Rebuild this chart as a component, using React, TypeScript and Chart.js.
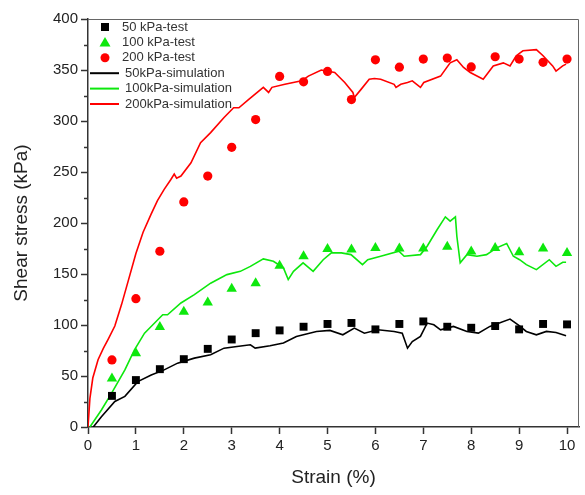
import React, { useEffect, useRef } from 'react';
import { Chart, registerables } from 'chart.js';

Chart.register(...registerables);

// ---- Data ----
const testStrain = [0.5, 1, 1.5, 2, 2.5, 3, 3.5, 4, 4.5, 5, 5.5, 6, 6.5, 7, 7.5, 8, 8.5, 9, 9.5, 10];
const test50 = [30.5, 46, 56.7, 66.5, 76.6, 85.8, 92, 94.7, 98.3, 101, 102, 95.7, 101, 103.5, 98.3, 97.3, 99, 95.7, 101, 100.6];
const test100 = [47.5, 72.4, 98, 113, 122, 135.6, 141, 158, 167.4, 174.6, 174, 175.6, 174.9, 175, 176.6, 172, 175.6, 171.3, 175, 170.7];
const test200 = [65.8, 125.8, 172.3, 220.7, 246, 274.2, 301.4, 343.7, 338.4, 348.6, 321, 360, 352.8, 360.7, 361.7, 353, 363, 360.7, 357.5, 360.7];

const sim50Strain = [0.11, 0.28, 0.56, 0.77, 1.04, 1.32, 1.59, 1.87, 2.22, 2.56, 2.84, 3.11, 3.39, 3.49, 3.8, 4.08, 4.35, 4.77, 5.05, 5.32, 5.56, 5.77, 6.05, 6.39, 6.56, 6.67, 6.77, 6.94, 7.08, 7.22, 7.36, 7.63, 7.91, 8.15, 8.39, 8.81, 8.98, 9.15, 9.36, 9.57, 9.77, 9.98];
const sim50Stress = [0, 10, 25, 30, 44.5, 51, 56, 62.6, 67.5, 70.8, 77.3, 79, 80.6, 77.3, 79.6, 82.3, 88.8, 93.7, 94.7, 90.4, 97, 92, 95.3, 93.7, 92, 77.3, 83.8, 88.8, 101.9, 100.2, 95.3, 98.6, 93.7, 92, 98.6, 105.8, 100.2, 93.7, 90.4, 93.7, 92.7, 89.4];

const sim100Strain = [0.04, 0.28, 0.49, 0.77, 0.97, 1.18, 1.39, 1.56, 1.66, 1.94, 2.22, 2.56, 2.9, 3.18, 3.39, 3.66, 3.87, 4.08, 4.18, 4.29, 4.49, 4.7, 4.91, 5.08, 5.29, 5.49, 5.73, 5.84, 6.11, 6.49, 6.6, 6.94, 7.08, 7.29, 7.46, 7.56, 7.67, 7.7, 7.77, 7.91, 8.12, 8.32, 8.53, 8.74, 8.88, 9.01, 9.15, 9.36, 9.63, 9.77, 9.91, 9.98];
const sim100Stress = [0, 16.7, 33, 56, 75.7, 92, 102, 110, 110, 121.6, 129.7, 141, 149.4, 152.6, 157.5, 164.8, 162.5, 156, 144.5, 152.6, 160.9, 152.6, 164, 170.7, 170.7, 169, 159.2, 164, 167.4, 172.3, 167.4, 169, 177.2, 193.6, 206, 201.8, 206, 187, 161, 169, 167.4, 169, 175.6, 179.9, 167.4, 164, 159.2, 154.3, 164, 157.5, 161.5, 161.5];

const sim200Strain = [0, 0.04, 0.1, 0.21, 0.32, 0.42, 0.56, 0.7, 0.85, 1.0, 1.15, 1.32, 1.45, 1.59, 1.73, 1.8, 1.85, 1.94, 2.15, 2.35, 2.56, 2.84, 3.04, 3.15, 3.35, 3.66, 3.77, 3.84, 4.11, 4.46, 4.6, 4.87, 5.15, 5.36, 5.53, 5.56, 5.7, 5.87, 5.98, 6.11, 6.39, 6.43, 6.53, 6.67, 6.77, 6.94, 7.01, 7.36, 7.56, 7.7, 7.84, 7.98, 8.25, 8.46, 8.67, 8.81, 8.94, 9.08, 9.36, 9.5, 9.7, 9.77, 9.91, 9.98];
const sim200Stress = [0, 28, 48, 66, 77, 86, 99, 120, 145, 170, 191, 209, 222, 233, 242.7, 248, 244, 246, 259, 278.8, 288.6, 303.4, 313, 313, 321, 333, 328, 333, 336, 339.4, 344, 350, 347.6, 337.8, 328, 323, 331, 341, 341.7, 341, 336, 333, 336, 337.8, 339.4, 333, 337.8, 344, 357, 360, 352.5, 347.6, 341, 354, 357, 354, 364, 368.8, 370, 364, 354, 349, 354, 355.8];

const xTicks = [0, 1, 2, 3, 4, 5, 6, 7, 8, 9, 10];
const yMinorTicks = [25, 75, 125, 175, 225, 275, 325, 375];

const testLabels = ['50 kPa-test', '100 kPa-test', '200 kPa-test'];
const simLabels = ['50kPa-simulation', '100kPa-simulation', '200kPa-simulation'];

const BLACK = '#000000';
const GREEN = '#0de80d';
const RED = '#ff0000';

const pts = (xs: number[], ys: number[]) => xs.map((x, i) => ({ x, y: ys[i] }));

const FONT = '"Liberation Sans", Arial, sans-serif';

const decorPlugin = {
  id: 'decor',
  afterDraw(chart: any) {
    const { ctx, chartArea } = chart;
    const ys = chart.scales.y;
    ctx.save();
    // top & right frame
    ctx.strokeStyle = '#666';
    ctx.lineWidth = 1;
    ctx.beginPath();
    ctx.moveTo(chartArea.left, chartArea.top + 0.5);
    ctx.lineTo(chartArea.right - 0.5, chartArea.top + 0.5);
    ctx.lineTo(chartArea.right - 0.5, chartArea.bottom);
    ctx.stroke();
    // minor y ticks
    ctx.strokeStyle = '#333';
    ctx.lineWidth = 1.5;
    yMinorTicks.forEach((v) => {
      const py = Math.round(ys.getPixelForValue(v)) + 0.5;
      ctx.beginPath();
      ctx.moveTo(chartArea.left - 4, py);
      ctx.lineTo(chartArea.left, py);
      ctx.stroke();
    });
    // legend
    const lx = chartArea.left;
    const ly = chartArea.top + 8;
    const step = 15.4;
    ctx.font = `13px ${FONT}`;
    ctx.textBaseline = 'middle';
    ctx.fillStyle = '#333';
    const dsets = chart.data.datasets;
    for (let i = 0; i < 6; i++) {
      const ds = dsets[i];
      const cy = ly + i * step;
      if (i < 3) {
        const cx = lx + 17;
        ctx.fillStyle = ds.backgroundColor;
        ctx.beginPath();
        if (ds.pointStyle === 'rect') {
          ctx.rect(cx - 4, cy - 4, 8, 8);
        } else if (ds.pointStyle === 'triangle') {
          ctx.moveTo(cx, cy - 5.5);
          ctx.lineTo(cx + 5.5, cy + 4);
          ctx.lineTo(cx - 5.5, cy + 4);
          ctx.closePath();
        } else {
          ctx.arc(cx, cy, 4.5, 0, Math.PI * 2);
        }
        ctx.fill();
        ctx.fillStyle = '#333';
        ctx.fillText(ds.label, lx + 34, cy);
      } else {
        ctx.strokeStyle = ds.borderColor;
        ctx.lineWidth = 2;
        ctx.beginPath();
        ctx.moveTo(lx + 2, cy);
        ctx.lineTo(lx + 31, cy);
        ctx.stroke();
        ctx.fillStyle = '#333';
        ctx.fillText(ds.label, lx + 37, cy);
      }
    }
    ctx.restore();
  },
};

export default function App() {
  const ref = useRef<HTMLCanvasElement | null>(null);

  useEffect(() => {
    if (!ref.current) return;
    const chart = new Chart(ref.current, {
      type: 'scatter',
      data: {
        datasets: [
          { label: testLabels[0], data: pts(testStrain, test50), pointStyle: 'rect', pointRadius: 5.6, backgroundColor: BLACK, borderColor: BLACK, borderWidth: 0, showLine: false },
          { label: testLabels[1], data: pts(testStrain, test100), pointStyle: 'triangle', pointRadius: 6, backgroundColor: GREEN, borderColor: GREEN, borderWidth: 0, showLine: false },
          { label: testLabels[2], data: pts(testStrain, test200), pointStyle: 'circle', pointRadius: 4.6, backgroundColor: RED, borderColor: RED, borderWidth: 0, showLine: false },
          { label: simLabels[0], data: pts(sim50Strain, sim50Stress), showLine: true, pointRadius: 0, borderColor: BLACK, backgroundColor: BLACK, borderWidth: 1.6, tension: 0 },
          { label: simLabels[1], data: pts(sim100Strain, sim100Stress), showLine: true, pointRadius: 0, borderColor: GREEN, backgroundColor: GREEN, borderWidth: 1.6, tension: 0 },
          { label: simLabels[2], data: pts(sim200Strain, sim200Stress), showLine: true, pointRadius: 0, borderColor: RED, backgroundColor: RED, borderWidth: 1.6, tension: 0 },
        ],
      },
      options: {
        animation: false,
        responsive: true,
        maintainAspectRatio: false,
        layout: { padding: { left: 0, top: 19, right: 2, bottom: 0 } },
        plugins: { legend: { display: false }, tooltip: { enabled: false } },
        scales: {
          x: {
            type: 'linear',
            min: 0,
            max: 10.25,
            afterBuildTicks: (s: any) => {
              s.ticks = xTicks.map((v) => ({ value: v }));
            },
            afterFit: (s: any) => {
              s.height = 68;
            },
            ticks: { font: { size: 15, family: FONT }, color: '#222', padding: 3, maxRotation: 0, autoSkip: false },
            grid: { drawOnChartArea: false, drawTicks: true, tickLength: 7, tickColor: '#333', tickWidth: 1.5 },
            border: { color: '#333', width: 1.5 },
            title: { display: true, text: 'Strain (%)', font: { size: 19, family: FONT }, color: '#222', padding: { top: 0, bottom: 6 } },
          },
          y: {
            type: 'linear',
            min: 0,
            max: 400,
            afterFit: (s: any) => {
              s.width = 88;
            },
            ticks: { stepSize: 50, font: { size: 15, family: FONT }, color: '#222', padding: 3 },
            grid: { drawOnChartArea: false, drawTicks: true, tickLength: 7, tickColor: '#333', tickWidth: 1.5 },
            border: { color: '#333', width: 1.5 },
            title: { display: true, text: 'Shear stress (kPa)', font: { size: 19, family: FONT }, color: '#222', padding: { top: 10, bottom: 0 } },
          },
        },
      } as any,
      plugins: [decorPlugin],
    });
    return () => chart.destroy();
  }, []);

  return (
    <div style={{ position: 'fixed', left: 0, top: 0, width: 585, height: 495, background: '#fff' }}>
      <canvas ref={ref} />
    </div>
  );
}
